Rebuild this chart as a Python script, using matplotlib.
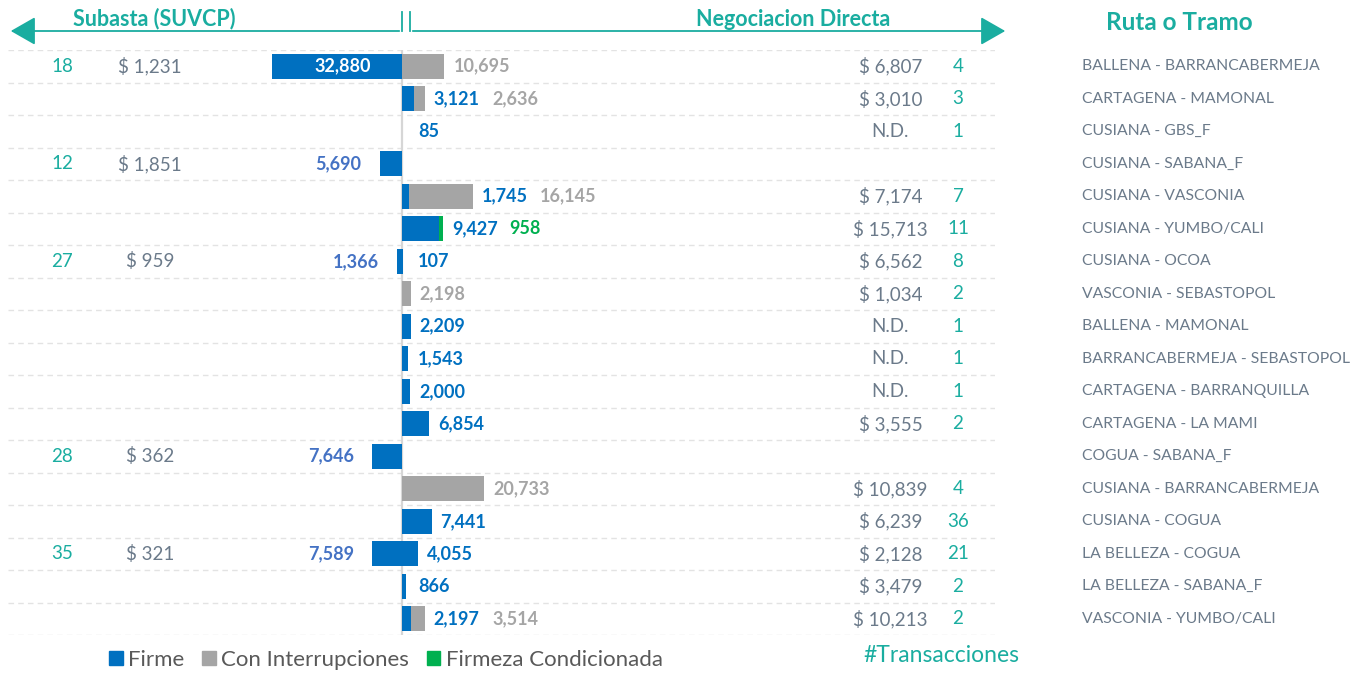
import matplotlib
matplotlib.use("Agg")
import matplotlib.pyplot as plt
from matplotlib.patches import Patch, FancyArrowPatch
from matplotlib.lines import Line2D
import matplotlib.transforms as mtransforms
import numpy as np

plt.rcParams['font.family'] = ['Lato', 'DejaVu Sans']

# ---- data ----
routes = ["BALLENA - BARRANCABERMEJA", "CARTAGENA - MAMONAL", "CUSIANA - GBS_F",
          "CUSIANA - SABANA_F", "CUSIANA - VASCONIA", "CUSIANA - YUMBO/CALI",
          "CUSIANA - OCOA", "VASCONIA - SEBASTOPOL", "BALLENA - MAMONAL",
          "BARRANCABERMEJA - SEBASTOPOL", "CARTAGENA - BARRANQUILLA", "CARTAGENA - LA MAMI",
          "COGUA - SABANA_F", "CUSIANA - BARRANCABERMEJA", "CUSIANA - COGUA",
          "LA BELLEZA - COGUA", "LA BELLEZA - SABANA_F", "VASCONIA - YUMBO/CALI"]

# subasta (left side)
sub_firme = [32880, 0, 0, 5690, 0, 0, 1366, 0, 0, 0, 0, 0, 7646, 0, 0, 7589, 0, 0]
sub_precio = ["$ 1,231", "", "", "$ 1,851", "", "", "$ 959", "", "", "", "", "",
              "$ 362", "", "", "$ 321", "", ""]
sub_trans = ["18", "", "", "12", "", "", "27", "", "", "", "", "", "28", "", "", "35", "", ""]

# negociacion directa (right side)
nd_firme = [0, 3121, 85, 0, 1745, 9427, 107, 0, 2209, 1543, 2000, 6854, 0, 0, 7441, 4055, 866, 2197]
nd_interr = [10695, 2636, 0, 0, 16145, 0, 0, 2198, 0, 0, 0, 0, 0, 20733, 0, 0, 0, 3514]
nd_cond = [0, 0, 0, 0, 0, 958, 0, 0, 0, 0, 0, 0, 0, 0, 0, 0, 0, 0]
nd_precio = ["$ 6,807", "$ 3,010", "N.D.", "", "$ 7,174", "$ 15,713", "$ 6,562", "$ 1,034",
             "N.D.", "N.D.", "N.D.", "$ 3,555", "", "$ 10,839", "$ 6,239", "$ 2,128",
             "$ 3,479", "$ 10,213"]
nd_trans = ["4", "3", "1", "", "7", "11", "8", "2", "1", "1", "1", "2", "", "4", "36", "21", "2", "2"]

BLUE = "#0070C0"
GRAY = "#A5A5A5"
GREEN = "#00B050"
TEAL = "#1AADA0"
TXT = "#6B7A8A"
LBLUE = "#4472C4"

W, H = 1362, 677
fig = plt.figure(figsize=(W / 100, H / 100), dpi=100)
ax = fig.add_axes([8 / W, 1 - 635 / H, 987 / W, 585 / H])

y = np.arange(len(routes))
bh = 0.77
firme = np.array(nd_firme)
interr = np.array(nd_interr)
cond = np.array(nd_cond)

ax.barh(y, -np.array(sub_firme), height=bh, color=BLUE, zorder=3)
ax.barh(y, firme, height=bh, color=BLUE, zorder=3)
ax.barh(y, interr, left=firme, height=bh, color=GRAY, zorder=3)
ax.barh(y, cond, left=firme + interr, height=bh, color=GREEN, zorder=3)

ax.set_xlim(-99700, 150000)
ax.set_ylim(len(routes) - 0.5, -0.5)
ax.axis("off")

for b in np.arange(-0.5, len(routes) + 0.5, 1):
    ax.axhline(b, color="#E3E3E3", lw=1, ls=(0, (4, 3)), zorder=1)
ax.axvline(0, color="#D6D6D6", lw=1.6, zorder=2)

blend = mtransforms.blended_transform_factory(ax.transAxes, ax.transData)
px = 253  # data units per pixel
FS = 13      # bold bar labels
FSP = 13.5   # prices / counts

for i in range(len(routes)):
    # left side
    v = sub_firme[i]
    if v:
        if v > 20000:
            ax.text(-v / 2 + 1500, i, f"{v:,}", color="white", fontsize=FS,
                    fontweight="bold", ha="center", va="center", zorder=4)
        else:
            ax.text(-v - 18 * px, i, f"{v:,}", color=LBLUE, fontsize=FS,
                    fontweight="bold", ha="right", va="center", zorder=4)
    if sub_trans[i]:
        ax.text(0.0547, i, sub_trans[i], transform=blend, color=TEAL, fontsize=FSP,
                ha="center", va="center")
        ax.text(0.144, i, sub_precio[i], transform=blend, color=TXT, fontsize=FSP,
                ha="center", va="center")

    # right side
    end = firme[i] + interr[i] + cond[i]
    xlab = max(end + 9 * px, 16 * px)
    last = None
    if firme[i]:
        last = ax.text(xlab, i, f"{firme[i]:,}", color=BLUE, fontsize=FS,
                       fontweight="bold", ha="left", va="center")
    if interr[i]:
        if last is None:
            last = ax.text(xlab, i, f"{interr[i]:,}", color=GRAY, fontsize=FS,
                           fontweight="bold", ha="left", va="center")
        else:
            last = ax.annotate(f"{interr[i]:,}", xy=(1, 0.5), xycoords=last,
                               xytext=(9, 0), textcoords="offset points", color=GRAY,
                               fontsize=FS, fontweight="bold", ha="left", va="center")
    if cond[i]:
        ax.annotate(f"{cond[i]:,}", xy=(1, 0.5), xycoords=last,
                    xytext=(8, 0), textcoords="offset points", color=GREEN,
                    fontsize=FS, fontweight="bold", ha="left", va="center")
    if nd_precio[i]:
        ax.text(0.894, i, nd_precio[i], transform=blend, color=TXT, fontsize=FSP,
                ha="center", va="center")
    if nd_trans[i]:
        ax.text(0.9625, i, nd_trans[i], transform=blend, color=TEAL, fontsize=FSP,
                ha="center", va="center")
    ax.text(1.088, i, routes[i], transform=blend, color=TXT, fontsize=11.3,
            ha="left", va="center", clip_on=False)

# headers
def fpx(xp, yp):
    return (xp / W, 1 - yp / H)

fig.text(*fpx(154, 19), "Subasta (SUVCP)", color=TEAL, fontsize=15.5,
         fontweight="bold", ha="center", va="center")
fig.text(*fpx(793, 19), "Negociacion Directa", color=TEAL, fontsize=15.5,
         fontweight="bold", ha="center", va="center")
fig.text(*fpx(1179, 22), "Ruta o Tramo", color=TEAL, fontsize=17.5,
         fontweight="bold", ha="center", va="center")

for x0, x1 in [(402, 8), (410, 1008)]:
    fig.add_artist(FancyArrowPatch(fpx(x0, 31), fpx(x1, 31), transform=fig.transFigure,
                                   arrowstyle="-|>,head_length=7,head_width=4",
                                   color=TEAL, lw=1.3, mutation_scale=2.2))
    fig.add_artist(Line2D([x0 / W, x0 / W], [1 - 12 / H, 1 - 31 / H],
                          transform=fig.transFigure, color=TEAL, lw=1.3))

# legend
handles = [Patch(color=BLUE, label="Firme"),
           Patch(color=GRAY, label="Con Interrupciones"),
           Patch(color=GREEN, label="Firmeza Condicionada")]
fig.legend(handles=handles, loc="center", bbox_to_anchor=fpx(386, 660), ncol=3,
           frameon=False, fontsize=16, handlelength=0.6, handleheight=0.6,
           handletextpad=0.25, columnspacing=0.8, labelcolor="#595959")
fig.text(*fpx(941, 655), "#Transacciones", color=TEAL, fontsize=16.5,
         ha="center", va="center")

fig.savefig("out.png", dpi=100)
